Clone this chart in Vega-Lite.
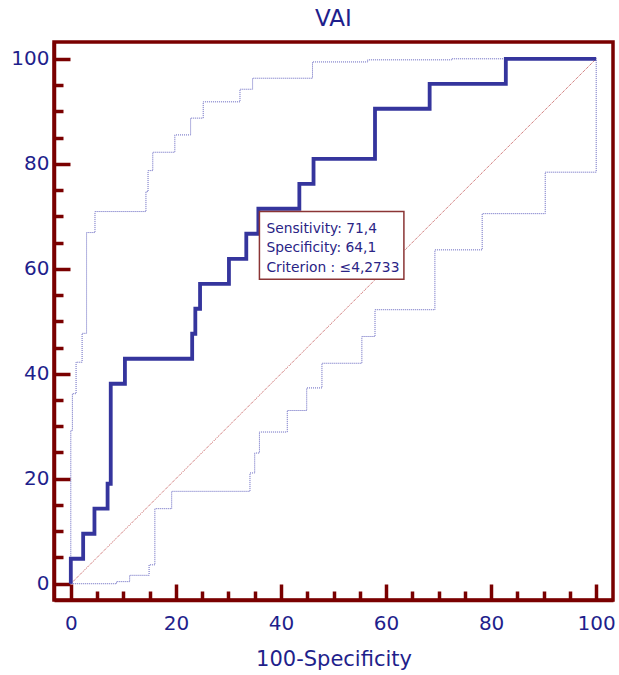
{
  "$schema": "https://vega.github.io/schema/vega-lite/v6.json",
  "width": 559,
  "height": 558,
  "autosize": "none",
  "padding": {"left": 54, "top": 42, "right": 6, "bottom": 75},
  "title": {"text": "VAI", "font": "DejaVu Sans", "fontSize": 23, "fontWeight": "normal", "color": "#1f1f8c", "offset": 11},
  "datasets": {
    "roc": [
      {"k": 0, "fpr": 0, "tpr": 0},
      {"k": 1, "fpr": 0, "tpr": 4.76},
      {"k": 2, "fpr": 2.35, "tpr": 9.52},
      {"k": 3, "fpr": 4.5, "tpr": 14.29},
      {"k": 4, "fpr": 7.0, "tpr": 19.05},
      {"k": 5, "fpr": 7.6, "tpr": 38.1},
      {"k": 6, "fpr": 10.3, "tpr": 42.86},
      {"k": 7, "fpr": 23.1, "tpr": 47.62},
      {"k": 8, "fpr": 23.7, "tpr": 52.38},
      {"k": 9, "fpr": 24.6, "tpr": 57.14},
      {"k": 10, "fpr": 30.1, "tpr": 61.9},
      {"k": 11, "fpr": 33.4, "tpr": 66.67},
      {"k": 12, "fpr": 35.7, "tpr": 71.43},
      {"k": 13, "fpr": 43.5, "tpr": 76.19},
      {"k": 14, "fpr": 46.2, "tpr": 80.95},
      {"k": 15, "fpr": 57.9, "tpr": 90.48},
      {"k": 16, "fpr": 68.3, "tpr": 95.24},
      {"k": 17, "fpr": 82.8, "tpr": 100},
      {"k": 18, "fpr": 100, "tpr": 100}
    ],
    "upper": [
      {"k": 0, "fpr": 0, "tpr": 0},
      {"k": 1, "fpr": 0, "tpr": 29.2},
      {"k": 2, "fpr": 0.3, "tpr": 36.2},
      {"k": 3, "fpr": 1.0, "tpr": 42.2},
      {"k": 4, "fpr": 2.15, "tpr": 47.7},
      {"k": 5, "fpr": 3.0, "tpr": 66.9},
      {"k": 6, "fpr": 4.6, "tpr": 70.9},
      {"k": 7, "fpr": 14.3, "tpr": 74.7},
      {"k": 8, "fpr": 14.7, "tpr": 78.7},
      {"k": 9, "fpr": 15.6, "tpr": 82.2},
      {"k": 10, "fpr": 19.8, "tpr": 85.5},
      {"k": 11, "fpr": 22.8, "tpr": 88.7},
      {"k": 12, "fpr": 25.2, "tpr": 91.8},
      {"k": 13, "fpr": 32.2, "tpr": 94.2},
      {"k": 14, "fpr": 34.6, "tpr": 96.3},
      {"k": 15, "fpr": 46.0, "tpr": 99.4},
      {"k": 16, "fpr": 56.5, "tpr": 99.8},
      {"k": 17, "fpr": 72.5, "tpr": 100},
      {"k": 18, "fpr": 100, "tpr": 100}
    ],
    "lower": [
      {"k": 0, "fpr": 0, "tpr": 0},
      {"k": 1, "fpr": 8.7, "tpr": 0.4},
      {"k": 2, "fpr": 11.2, "tpr": 1.6},
      {"k": 3, "fpr": 14.9, "tpr": 3.6},
      {"k": 4, "fpr": 16.0, "tpr": 14.3},
      {"k": 5, "fpr": 19.2, "tpr": 17.6},
      {"k": 6, "fpr": 34.1, "tpr": 21.1},
      {"k": 7, "fpr": 35.0, "tpr": 24.9},
      {"k": 8, "fpr": 35.9, "tpr": 28.9},
      {"k": 9, "fpr": 41.2, "tpr": 33.0},
      {"k": 10, "fpr": 44.9, "tpr": 37.3},
      {"k": 11, "fpr": 47.8, "tpr": 42.0},
      {"k": 12, "fpr": 55.4, "tpr": 47.1},
      {"k": 13, "fpr": 57.9, "tpr": 52.2},
      {"k": 14, "fpr": 69.3, "tpr": 63.6},
      {"k": 15, "fpr": 78.3, "tpr": 70.5},
      {"k": 16, "fpr": 90.3, "tpr": 78.4},
      {"k": 17, "fpr": 100, "tpr": 100}
    ],
    "diag": [
      {"k": 0, "fpr": 0, "tpr": 0},
      {"k": 1, "fpr": 100, "tpr": 100}
    ],
    "box": [
      {"x1": 35.9, "x2": 63.4, "y1": 70.9, "y2": 58.0}
    ],
    "note": [
      {"x": 35.9, "y": 66.9, "label": "Sensitivity: 71,4"},
      {"x": 35.9, "y": 63.1, "label": "Specificity: 64,1"},
      {"x": 35.9, "y": 59.4, "label": "Criterion : ≤4,2733"}
    ]
  },
  "resolve": {"axis": {"x": "independent", "y": "independent"}},
  "layer": [
    {
      "data": {"name": "diag"},
      "mark": {"type": "line", "color": "#c04a4a", "strokeWidth": 1, "strokeDash": [1, 1]},
      "encoding": {
        "x": {"field": "fpr", "type": "quantitative", "scale": {"domain": [-3.2, 103.2], "nice": false, "zero": false},
          "axis": {"orient": "bottom", "values": [0, 20, 40, 60, 80, 100], "tickSize": -16, "labelPadding": 29, "labelFlush": false, "title": "100-Specificity", "titleFont": "DejaVu Sans", "titleFontSize": 21, "titleFontWeight": "normal", "titleColor": "#1f1f8c", "titlePadding": 15}},
        "y": {"field": "tpr", "type": "quantitative", "scale": {"domain": [-3.1, 103.2], "nice": false, "zero": false},
          "axis": {"orient": "left", "values": [0, 20, 40, 60, 80, 100], "tickSize": -16, "labelPadding": 21, "labelFlush": false, "title": null}},
        "order": {"field": "k"}
      }
    },
    {
      "data": {"name": "lower"},
      "mark": {"type": "line", "color": "#6464bf", "strokeWidth": 1, "strokeDash": [1, 1], "interpolate": "step-after"},
      "encoding": {
        "x": {"field": "fpr", "type": "quantitative",
          "axis": {"orient": "bottom", "values": [5, 10, 15, 25, 30, 35, 45, 50, 55, 65, 70, 75, 85, 90, 95], "tickSize": -9, "labels": false, "domain": false, "title": null}},
        "y": {"field": "tpr", "type": "quantitative",
          "axis": {"orient": "left", "values": [5, 10, 15, 25, 30, 35, 45, 50, 55, 65, 70, 75, 85, 90, 95], "tickSize": -9, "labels": false, "domain": false, "title": null}},
        "order": {"field": "k"}
      }
    },
    {
      "data": {"name": "upper"},
      "mark": {"type": "line", "color": "#6464bf", "strokeWidth": 1, "strokeDash": [1, 1], "interpolate": "step-after"},
      "encoding": {
        "x": {"field": "fpr", "type": "quantitative", "axis": null},
        "y": {"field": "tpr", "type": "quantitative", "axis": null},
        "order": {"field": "k"}
      }
    },
    {
      "data": {"name": "roc"},
      "mark": {"type": "line", "color": "#35359d", "strokeWidth": 3.8, "interpolate": "step-after"},
      "encoding": {
        "x": {"field": "fpr", "type": "quantitative", "axis": null},
        "y": {"field": "tpr", "type": "quantitative", "axis": null},
        "order": {"field": "k"}
      }
    },
    {
      "data": {"name": "box"},
      "mark": {"type": "rect", "fill": "#ffffff", "stroke": "#8b3535", "strokeWidth": 1.5},
      "encoding": {
        "x": {"field": "x1", "type": "quantitative", "axis": null},
        "x2": {"field": "x2"},
        "y": {"field": "y1", "type": "quantitative", "axis": null},
        "y2": {"field": "y2"}
      }
    },
    {
      "data": {"name": "note"},
      "mark": {"type": "text", "align": "left", "baseline": "alphabetic", "dx": 7, "font": "DejaVu Sans", "fontSize": 13.8, "color": "#2a2485"},
      "encoding": {
        "x": {"field": "x", "type": "quantitative", "axis": null},
        "y": {"field": "y", "type": "quantitative", "axis": null},
        "text": {"field": "label", "type": "nominal"}
      }
    }
  ],
  "config": {
    "view": {"stroke": "#7a0000", "strokeWidth": 3.5},
    "axis": {
      "grid": false,
      "domainColor": "#7a0000",
      "domainWidth": 3.5,
      "tickColor": "#7a0000",
      "tickWidth": 3.5,
      "labelFont": "DejaVu Sans",
      "labelFontSize": 20,
      "labelColor": "#1f1f8c"
    }
  }
}
